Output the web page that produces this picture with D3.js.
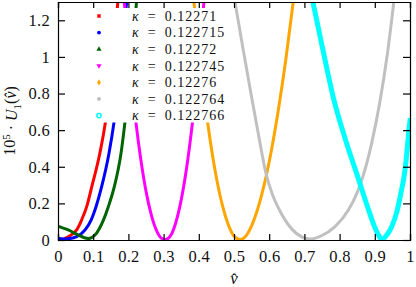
<!DOCTYPE html>
<html>
<head>
<meta charset="utf-8">
<script src="https://cdn.jsdelivr.net/npm/d3@7"></script>
<style>
  body { margin: 0; background: #fff; }
  text { font-family: "Liberation Serif", "DejaVu Serif", serif; fill: #111; }
</style>
</head>
<body>
<div class="chart"></div>
<script>
// values: [v, U] pairs, U in units of 1e-5
const kappas = ['0.12271', '0.122715', '0.12272', '0.122745', '0.12276', '0.122764', '0.122766'];

const k12271 = [[0, 0.002], [0.0105, 0.003], [0.029, 0.018], [0.053, 0.055], [0.067, 0.109],
  [0.0815, 0.182], [0.096, 0.291], [0.119, 0.475], [0.1355, 0.655], [0.153, 0.95], [0.171, 1.32]];
const k122715 = [[0, 0.009], [0.015, 0.006], [0.029, 0.007], [0.053, 0.018], [0.077, 0.055],
  [0.094, 0.109], [0.108, 0.182], [0.124, 0.291], [0.145, 0.475], [0.16, 0.655], [0.178, 0.95], [0.196, 1.32]];
const k12272 = [[0, 0.076], [0.029, 0.055], [0.058, 0.027], [0.075, 0.012], [0.088, 0.008],
  [0.105, 0.027], [0.129, 0.109], [0.143, 0.182], [0.16, 0.291], [0.179, 0.473], [0.19, 0.64],
  [0.207, 0.95], [0.224, 1.32]];
const k122745 = [[0.185, 1.37], [0.205, 0.936], [0.222, 0.633], [0.235, 0.443], [0.25, 0.267],
  [0.265, 0.137], [0.28, 0.051], [0.293, 0.011], [0.305, 0.003], [0.32, 0.024], [0.335, 0.097],
  [0.35, 0.219], [0.365, 0.389], [0.38, 0.608], [0.395, 0.875], [0.415, 1.31]];
const k12276 = [[0.385, 1.32], [0.407, 0.92], [0.427, 0.616], [0.447, 0.372], [0.467, 0.19],
  [0.487, 0.068], [0.502, 0.017], [0.517, 0.003], [0.532, 0.018], [0.547, 0.065], [0.567, 0.168],
  [0.587, 0.312], [0.607, 0.497], [0.627, 0.722], [0.647, 0.983], [0.669, 1.312]];
const k122764 = [[0.501, 1.32], [0.527, 1.03], [0.551, 0.77], [0.571, 0.56], [0.59, 0.37],
  [0.61, 0.245], [0.626, 0.175], [0.645, 0.11], [0.665, 0.058], [0.69, 0.02], [0.716, 0.005],
  [0.745, 0.02], [0.787, 0.073], [0.825, 0.164], [0.849, 0.255], [0.866, 0.345], [0.891, 0.528],
  [0.914, 0.75], [0.936, 1.02], [0.954, 1.3]];
const k122766 = [[0.722, 1.32], [0.7528, 1.037], [0.784, 0.764], [0.818, 0.54], [0.851, 0.349],
  [0.8815, 0.169], [0.8986, 0.076], [0.9105, 0.027], [0.9196, 0.004], [0.933, 0.025], [0.948, 0.073],
  [0.964, 0.164], [0.974, 0.255], [0.983, 0.345], [0.989, 0.436], [0.9935, 0.528], [0.998, 0.618], [1.001, 0.666]];

const xTicks = [0, 0.1, 0.2, 0.3, 0.4, 0.5, 0.6, 0.7, 0.8, 0.9, 1];
const yTicks = [0, 0.2, 0.4, 0.6, 0.8, 1, 1.2];

const series = [k12271, k122715, k12272, k122745, k12276, k122764, k122766];
const colors = ['#ff0000', '#0000ff', '#006400', '#ff00ff', '#ffa500', '#c0c0c0', '#00ffff'];
const widths = [3, 3, 3, 3, 3, 3, 5];

// gnuplot style pentagon for the 6th key entry
const symbolPentagon = {
  draw(ctx, size) {
    const r = Math.sqrt(size / 2.4);
    for (let i = 0; i < 5; i++) {
      const a = -Math.PI / 2 + i * 2 * Math.PI / 5;
      i ? ctx.lineTo(r * Math.cos(a), r * Math.sin(a)) : ctx.moveTo(r * Math.cos(a), r * Math.sin(a));
    }
    ctx.closePath();
  }
};
const symbols = [d3.symbolSquare, d3.symbolCircle, d3.symbolTriangle, d3.symbolTriangle,
  d3.symbolDiamond, symbolPentagon, d3.symbolCircle];

const width = 416;
const height = 287;
const margin = { top: 2, right: 6, bottom: 47, left: 58 };
const w = width - margin.left - margin.right;
const h = height - margin.top - margin.bottom;

const svg = d3.select('.chart').append('svg')
  .attr('width', width).attr('height', height);
const g = svg.append('g').attr('transform', `translate(${margin.left},${margin.top})`);

const x = d3.scaleLinear().domain([0, 1]).range([0, w]);
const y = d3.scaleLinear().domain([0, 1.3]).range([h, 0]);

svg.append('defs').append('clipPath').attr('id', 'plot')
  .append('rect').attr('width', w).attr('height', h);

const line = d3.line().x(d => x(d[0])).y(d => y(d[1])).curve(d3.curveMonotoneX);

g.append('g').attr('clip-path', 'url(#plot)')
  .selectAll('path').data(series).enter().append('path')
  .attr('d', line)
  .attr('fill', 'none')
  .attr('stroke', (d, i) => colors[i])
  .attr('stroke-width', (d, i) => widths[i])
  .attr('stroke-linejoin', 'round');

// opaque key
const key = g.append('g').attr('class', 'key');
key.append('rect').attr('x', 30).attr('y', 6).attr('width', 144).attr('height', 114.5).attr('fill', '#fff');
const rows = key.selectAll('.row').data(kappas).enter().append('g')
  .attr('transform', (d, i) => `translate(41,${14 + i * 16.6})`);
rows.append('path')
  .attr('d', (d, i) => d3.symbol().type(symbols[i]).size(i === 6 ? 14 : 12)())
  .attr('transform', (d, i) => i === 3 ? 'rotate(180)' : null)
  .attr('fill', (d, i) => i === 6 ? '#fff' : colors[i])
  .attr('stroke', (d, i) => i === 6 ? colors[i] : 'none')
  .attr('stroke-width', 1.5);
rows.append('text').attr('x', 33).attr('dy', '0.34em')
  .style('font-size', '14px').style('letter-spacing', '1px')
  .call(t => t.append('tspan').style('font-style', 'italic').text('κ'))
  .call(t => t.append('tspan').text(d => '\u2002=\u2002' + d));

// axes, ticks pointing inward like gnuplot
const fmt = d => String(d);
g.append('g').attr('transform', `translate(0,${h})`)
  .call(d3.axisBottom(x).tickValues(xTicks).tickFormat(fmt).tickSize(-6).tickPadding(10));
g.append('g').call(d3.axisTop(x).tickValues(xTicks).tickFormat('').tickSize(-6));
g.append('g')
  .call(d3.axisLeft(y).tickValues(yTicks).tickFormat(fmt).tickSize(-7).tickPadding(8));
g.append('g').attr('transform', `translate(${w},0)`)
  .call(d3.axisRight(y).tickValues(yTicks).tickFormat('').tickSize(-7));
g.selectAll('.domain').attr('stroke', '#000').attr('stroke-width', 1.2);
g.selectAll('.tick line').attr('stroke', '#000').attr('stroke-width', 1.2);
g.selectAll('.tick text').style('font-family', '"Liberation Serif", serif')
  .style('font-size', '16.5px').style('letter-spacing', '0.3px').attr('fill', '#111');

// axis titles
svg.append('text').attr('x', margin.left + x(0.5)).attr('y', 284)
  .attr('text-anchor', 'middle').style('font-size', '17px').style('font-style', 'italic').text('v\u0302');

const yl = svg.append('text').attr('transform', `translate(15,${margin.top + y(0.65)}) rotate(-90)`)
  .attr('text-anchor', 'middle').style('font-size', '16px');
yl.append('tspan').text('10');
yl.append('tspan').attr('dy', '-0.45em').style('font-size', '11px').text('5');
yl.append('tspan').attr('dy', '0.45em').text(' · ');
yl.append('tspan').style('font-style', 'italic').text('U');
yl.append('tspan').attr('dy', '0.3em').style('font-size', '11px').text('1');
yl.append('tspan').attr('dy', '-0.3em').text('(');
yl.append('tspan').style('font-style', 'italic').text('v\u0302');
yl.append('tspan').text(')');
</script>
</body>
</html>
